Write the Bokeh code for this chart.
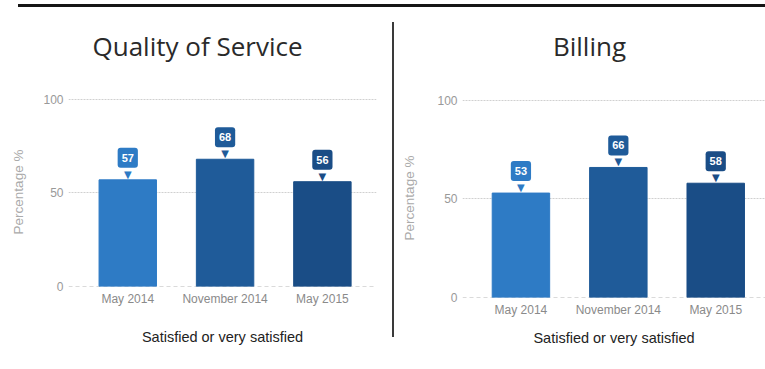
from bokeh.plotting import figure
from bokeh.models import ColumnDataSource, FixedTicker, Range1d, Span, Div, LinearAxis
from bokeh.layouts import row, column
from bokeh.core.properties import value
from bokeh.embed import file_html
from bokeh.resources import INLINE

categories = ["May 2014", "November 2014", "May 2015"]
quality = [57, 68, 56]
billing = [53, 66, 58]
bar_colors = ["#2e7bc5", "#1f5b99", "#1a4d86"]
titles = ["Quality of Service", "Billing"]
x_title = "Satisfied or very satisfied"
y_title = "Percentage %"
y_ticks = [0, 50, 100]


def panel(title, values, width, xr, mb_left, mb_right, mb_top, mb_bottom,
          title_px_range, title_standoff, xlabel_standoff, ylabel_standoff):
    src = ColumnDataSource(dict(
        x=list(range(len(categories))),
        val=values,
        lbl=[str(v) for v in values],
        color=bar_colors,
    ))
    p = figure(width=width, height=350, x_range=Range1d(*xr), y_range=Range1d(0, 101),
               output_backend="svg", toolbar_location=None,
               min_border_left=mb_left, min_border_right=mb_right,
               min_border_top=mb_top, min_border_bottom=mb_bottom)
    p.outline_line_color = None
    p.background_fill_color = "white"
    p.border_fill_color = "white"

    p.add_layout(Span(location=0, dimension="width", line_color="#b5b5b5",
                      line_dash="4 3", line_width=1, level="underlay"))

    p.vbar(x="x", top="val", width=0.59, color="color", source=src)

    # callout pointer
    p.text(x="x", y="val", text=value("\u25BC"), source=src, text_color="color",
           text_align="center", text_baseline="bottom", text_font_size="10px",
           text_font=value("DejaVu Sans"), y_offset=0)
    # callout box
    p.text(x="x", y="val", text="lbl", source=src, text_color="white",
           text_align="center", text_baseline="bottom", text_font_size="11px",
           text_font=value("Liberation Sans"), text_font_style="bold",
           background_fill_color="color",
           padding=dict(left=4, right=4, top=6, bottom=6), border_radius=3,
           y_offset=-12)

    p.xgrid.grid_line_color = None
    p.ygrid.ticker = FixedTicker(ticks=[50, 100])
    p.ygrid.grid_line_color = "#d0d0d0"
    p.ygrid.grid_line_dash = "2 1"

    bx = p.below[0]
    bx.ticker = FixedTicker(ticks=list(range(len(categories))))
    bx.major_label_overrides = {i: c for i, c in enumerate(categories)}
    bx.axis_line_color = None
    bx.major_tick_line_color = None
    bx.minor_tick_line_color = None
    bx.major_tick_out = 0
    bx.major_tick_in = 0
    bx.major_label_standoff = 5
    bx.major_label_text_font = "Liberation Sans"
    bx.major_label_text_font_size = "12px"
    bx.major_label_text_color = "#8a8a8a"
    bx.axis_label = x_title
    bx.axis_label_text_font = "Liberation Sans"
    bx.axis_label_text_font_size = "14.5px"
    bx.axis_label_text_font_style = "normal"
    bx.axis_label_text_color = "#222222"
    bx.axis_label_standoff = xlabel_standoff

    ly = p.left[0]
    ly.ticker = FixedTicker(ticks=y_ticks)
    ly.axis_line_color = None
    ly.major_tick_line_color = None
    ly.minor_tick_line_color = None
    ly.major_tick_out = 0
    ly.major_tick_in = 0
    ly.major_label_standoff = 5
    ly.major_label_text_font = "Liberation Sans"
    ly.major_label_text_font_size = "12px"
    ly.major_label_text_color = "#999999"
    ly.axis_label = y_title
    ly.axis_label_text_font = "Liberation Sans"
    ly.axis_label_text_font_size = "13.5px"
    ly.axis_label_text_font_style = "normal"
    ly.axis_label_text_color = "#aaaaaa"
    ly.axis_label_standoff = ylabel_standoff

    # panel title: single tick label of a top axis on a pixel-unit helper range
    p.extra_x_ranges = {"title": Range1d(*title_px_range)}
    tax = LinearAxis(x_range_name="title", ticker=FixedTicker(ticks=[0]),
                     major_label_overrides={0: title},
                     axis_line_color=None, major_tick_line_color=None,
                     minor_tick_line_color=None,
                     major_tick_out=0, major_tick_in=0, minor_tick_out=0, minor_tick_in=0,
                     major_label_standoff=title_standoff,
                     major_label_text_font="Open Sans", major_label_text_font_size="26px",
                     major_label_text_font_style="normal", major_label_text_color="#2a2a2a")
    p.add_layout(tax, "above")
    return p


left = panel(titles[0], quality, 384, (-0.609, 2.556), 60, 16, 86, 75,
             (-129, 179), 34, 20, 14)
right = panel(titles[1], billing, 371, (-0.600, 2.511), 68, 0, 87, 64,
              (-127, 176), 35, 10, 17)

top_line = Div(text="", width=747, height=3, margin=(4, 0, 0, 18),
               styles={"background-color": "#151515"})
divider = Div(text="", width=2, height=315, margin=(11, 0, 0, 0),
              styles={"background-color": "#3a3a3a"})

layout = column(top_line,
                row(column(left), divider, column(right), spacing=0, margin=(4, 0, 0, 8)),
                spacing=0)

open("out.html", "w").write(file_html(layout, INLINE))
